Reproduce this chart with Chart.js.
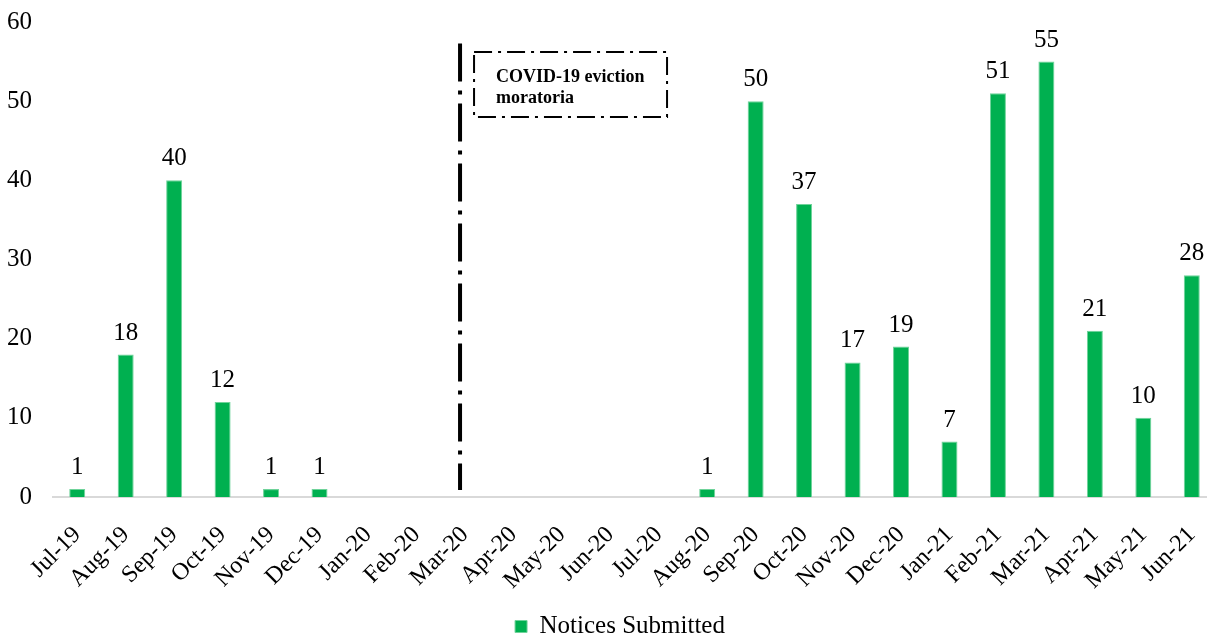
<!DOCTYPE html>
<html>
<head>
<meta charset="utf-8">
<script src="https://cdn.jsdelivr.net/npm/chart.js@4/dist/chart.umd.min.js"></script>
<style>
  html, body { margin: 0; padding: 0; background: #fff; overflow: hidden; }
  #wrap { width: 1240px; height: 635px; }
</style>
</head>
<body>
<div id="wrap"><canvas id="c" width="1240" height="635"></canvas></div>
<script>
const months = ['Jul-19','Aug-19','Sep-19','Oct-19','Nov-19','Dec-19','Jan-20','Feb-20','Mar-20','Apr-20','May-20','Jun-20','Jul-20','Aug-20','Sep-20','Oct-20','Nov-20','Dec-20','Jan-21','Feb-21','Mar-21','Apr-21','May-21','Jun-21'];
const noticesSubmitted = [1,18,40,12,1,1,0,0,0,0,0,0,0,1,50,37,17,19,7,51,55,21,10,28];
const yTicks = [0,10,20,30,40,50,60];
const seriesName = 'Notices Submitted';
const annotationText = ['COVID-19 eviction', 'moratoria'];
const moratoriumStart = 7.9; // category position of the moratorium line

const FONT = "'Liberation Serif', 'Times New Roman', serif";
const GREEN = '#00b050';

const dataLabels = {
  id: 'dataLabels',
  afterDatasetsDraw(chart) {
    const ctx = chart.ctx;
    const meta = chart.getDatasetMeta(0);
    ctx.save();
    ctx.font = '25px ' + FONT;
    ctx.fillStyle = '#000';
    ctx.textAlign = 'center';
    ctx.textBaseline = 'alphabetic';
    meta.data.forEach((bar, i) => {
      const v = chart.data.datasets[0].data[i];
      if (!v) return;
      ctx.fillText(String(v), bar.x, bar.y - 15);
    });
    ctx.restore();
  }
};

const moratorium = {
  id: 'moratorium',
  afterDatasetsDraw(chart) {
    const ctx = chart.ctx;
    const xs = chart.scales.x, ys = chart.scales.y;
    const lx = xs.getPixelForValue(moratoriumStart);
    ctx.save();
    ctx.strokeStyle = '#000';
    ctx.lineWidth = 4;
    ctx.setLineDash([38, 9, 4, 9]);
    ctx.beginPath();
    ctx.moveTo(lx, ys.getPixelForValue(57.3));
    ctx.lineTo(lx, ys.getPixelForValue(0.9));
    ctx.stroke();
    const bx = lx + 14, by = ys.getPixelForValue(56.2);
    const bw = 193, bh = ys.getPixelForValue(48) - by;
    ctx.lineWidth = 2;
    ctx.setLineDash([18, 6, 3, 6]);
    ctx.strokeRect(bx, by, bw, bh);
    ctx.setLineDash([]);
    ctx.font = 'bold 18px ' + FONT;
    ctx.fillStyle = '#000';
    ctx.textAlign = 'left';
    ctx.textBaseline = 'alphabetic';
    ctx.fillText(annotationText[0], bx + 22, by + 30);
    ctx.fillText(annotationText[1], bx + 22, by + 51);
    ctx.restore();
  }
};

new Chart(document.getElementById('c'), {
  type: 'bar',
  data: {
    labels: months,
    datasets: [{
      label: seriesName,
      data: noticesSubmitted,
      backgroundColor: GREEN,
      borderColor: '#6fd39a',
      borderWidth: 1,
      categoryPercentage: 1,
      barPercentage: 0.33
    }]
  },
  options: {
    responsive: false,
    animation: false,
    layout: { padding: { top: 22, left: 0, right: 0, bottom: -14 } },
    plugins: {
      legend: {
        position: 'bottom',
        labels: {
          boxWidth: 12,
          boxHeight: 12,
          padding: 1,
          color: '#000',
          font: { family: FONT, size: 25 }
        }
      },
      tooltip: { enabled: false }
    },
    scales: {
      x: {
        grid: { display: false, drawTicks: false },
        border: { display: true, color: '#d9d9d9', width: 2 },
        ticks: {
          color: '#000',
          minRotation: 45,
          maxRotation: 45,
          autoSkip: false,
          padding: 24,
          font: { family: FONT, size: 24 }
        },
        afterFit(scale) {
          scale.paddingLeft = 0;
          scale.paddingRight = 24;
          scale.paddingTop = 0;
          scale.paddingBottom = 0;
          scale.height = 116;
        }
      },
      y: {
        min: 0,
        max: 60,
        afterBuildTicks(scale) { scale.ticks = yTicks.map(v => ({ value: v })); },
        grid: { display: false, drawTicks: false },
        border: { display: false },
        ticks: {
          color: '#000',
          padding: 21,
          font: { family: FONT, size: 25 }
        },
        afterFit(scale) {
          scale.width = 53;
          scale.paddingTop = 0;
          scale.paddingBottom = 0;
        }
      }
    }
  },
  plugins: [dataLabels, moratorium]
});
</script>
</body>
</html>
